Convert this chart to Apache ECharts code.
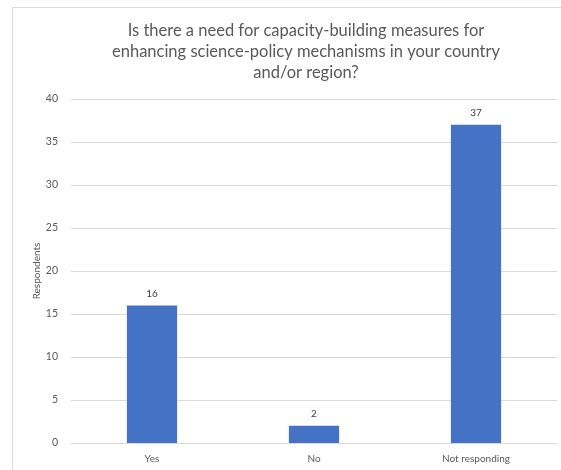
<!DOCTYPE html>
<html>
<head>
<meta charset="utf-8">
<script src="https://cdn.jsdelivr.net/npm/echarts@6/dist/echarts.min.js"></script>
<style>
html,body{margin:0;padding:0;background:#fff;}
#c{width:561px;height:470px;}
</style>
</head>
<body>
<div id="c"></div>
<script>
const titleLines = ["Is there a need for capacity-building measures for", "enhancing science-policy mechanisms in your country", "and/or region?"];
const categories = ["Yes", "No", "Not responding"];
const respondents = [16, 2, 37];
const yTicks = { min: 0, max: 40, interval: 5 };
const yAxisName = "Respondents";

const chart = echarts.init(document.getElementById('c'), null, { renderer: 'canvas' });
chart.setOption({
  backgroundColor: '#ffffff',
  animation: false,
  graphic: [{
    type: 'rect',
    shape: { x: 12.5, y: 7.5, width: 600, height: 500 },
    style: { fill: 'none', stroke: '#d9d9d9', lineWidth: 1 },
    silent: true, z: -1
  }],
  title: {
    text: titleLines.join('\n'),
    left: 301,
    top: 15,
    textAlign: 'center',
    textStyle: {
      fontFamily: 'Lato',
      fontSize: 16.5,
      fontWeight: 'normal',
      color: '#595959',
      lineHeight: 21
    }
  },
  grid: { left: 71, right: 4, top: 99, bottom: 27, containLabel: false },
  xAxis: {
    type: 'category',
    data: categories,
    axisLine: { show: true, lineStyle: { color: '#d9d9d9', width: 1 } },
    axisTick: { show: false },
    axisLabel: { color: '#595959', fontSize: 10, fontFamily: 'Lato', margin: 11 }
  },
  yAxis: {
    type: 'value',
    min: yTicks.min, max: yTicks.max, interval: yTicks.interval,
    name: yAxisName,
    nameLocation: 'middle',
    nameRotate: 90,
    nameGap: 29,
    nameMoveOverlap: false,
    nameTextStyle: { color: '#595959', fontSize: 10, fontFamily: 'Lato' },
    axisLine: { show: false },
    axisTick: { show: false },
    axisLabel: { color: '#595959', fontSize: 10.5, fontFamily: 'Lato', margin: 13 },
    splitLine: { lineStyle: { color: '#d9d9d9', width: 1 } }
  },
  series: [{
    type: 'bar',
    data: respondents,
    barWidth: '31%',
    itemStyle: { color: '#4472C4' },
    label: { show: true, position: 'top', distance: 7, color: '#404040', fontSize: 10, fontFamily: 'Lato' }
  }]
});
</script>
</body>
</html>
